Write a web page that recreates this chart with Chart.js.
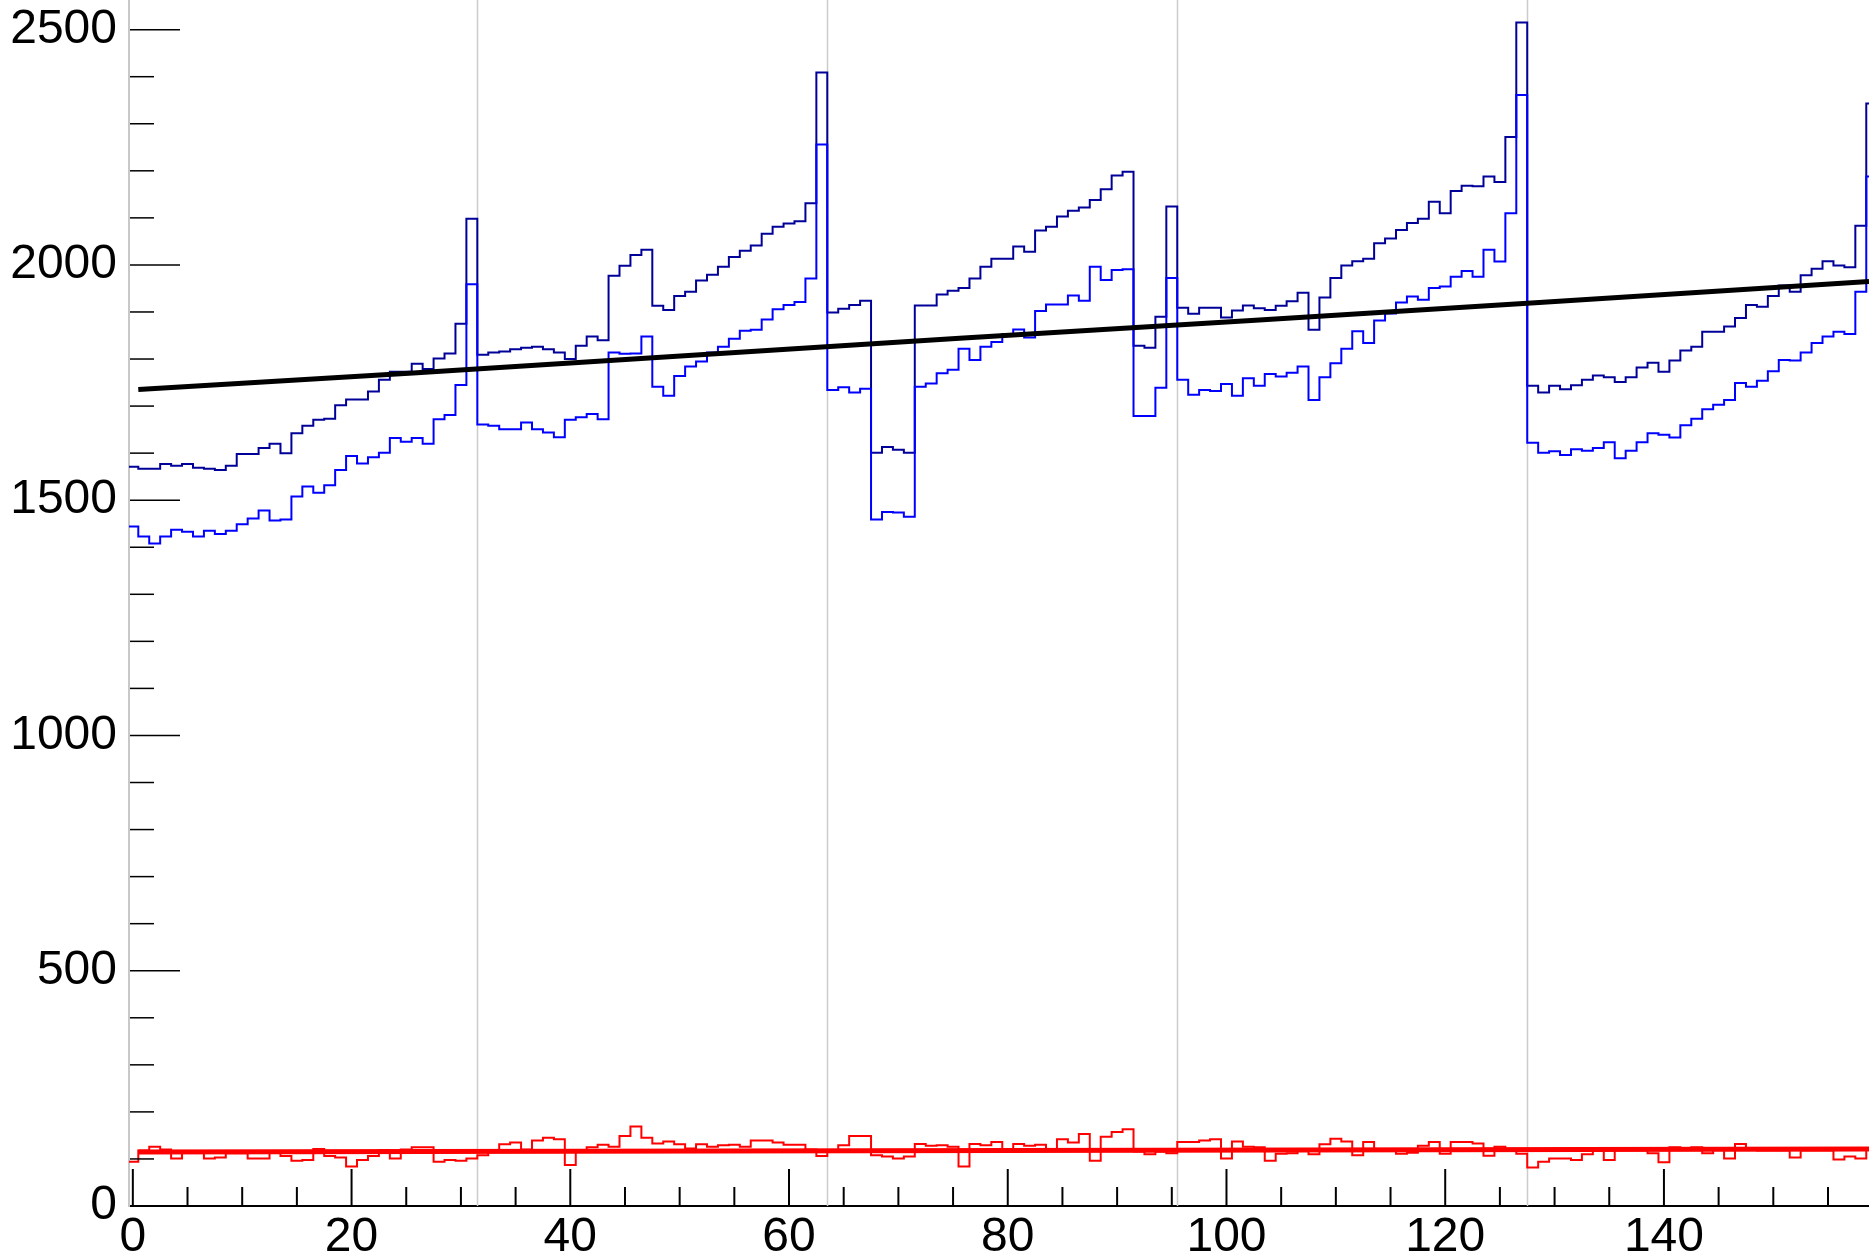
<!DOCTYPE html>
<html lang="en">
<head>
<meta charset="UTF-8">
<title>Histograms</title>
<script src="https://cdn.jsdelivr.net/npm/chart.js"></script>
<style>
  html, body { margin: 0; padding: 0; background: #fff; }
  #wrap { width: 1869px; height: 1257px; position: relative; }
</style>
</head>
<body>
<div id="wrap"><canvas id="histChart"></canvas></div>
<script>
// bin centres (bins are one unit wide, edges at half integers)
const binCenters = Array.from({ length: 160 }, (_, i) => i);

// dark blue histogram
const darkBlueValues = [
  1571, 1567, 1567, 1577, 1573, 1577, 1569, 1567, 1564, 1573,
  1598, 1598, 1611, 1620, 1600, 1642, 1658, 1671, 1673, 1702,
  1714, 1714, 1731, 1756, 1773, 1773, 1790, 1779, 1801, 1812,
  1875, 2098, 1809, 1814, 1816, 1821, 1824, 1826, 1821, 1814,
  1800, 1828, 1848, 1840, 1977, 1998, 2021, 2032, 1913, 1904,
  1934, 1943, 1967, 1979, 1996, 2017, 2030, 2041, 2066, 2081,
  2088, 2093, 2131, 2409, 1899, 1907, 1915, 1924, 1601, 1613,
  1607, 1601, 1914, 1914, 1937, 1945, 1951, 1971, 1996, 2013,
  2013, 2039, 2028, 2073, 2081, 2103, 2115, 2122, 2138, 2161,
  2190, 2198, 1828, 1824, 1890, 2124, 1909, 1896, 1909, 1909,
  1888, 1903, 1914, 1908, 1904, 1913, 1923, 1941, 1862, 1931,
  1972, 1999, 2008, 2013, 2046, 2056, 2074, 2089, 2098, 2134,
  2110, 2157, 2168, 2167, 2188, 2176, 2272, 2515, 1743, 1729,
  1743, 1736, 1744, 1756, 1765, 1761, 1751, 1761, 1782, 1792,
  1773, 1797, 1818, 1826, 1858, 1858, 1869, 1887, 1915, 1911,
  1934, 1956, 1943, 1978, 1992, 2008, 1999, 1995, 2083, 2343
];

// blue histogram
const blueValues = [
  1444, 1423, 1408, 1423, 1437, 1433, 1423, 1435, 1428, 1435,
  1449, 1461, 1478, 1457, 1459, 1508, 1529, 1516, 1532, 1564,
  1594, 1578, 1591, 1601, 1632, 1624, 1632, 1620, 1672, 1681,
  1745, 1959, 1661, 1658, 1651, 1651, 1665, 1651, 1644, 1634,
  1671, 1676, 1683, 1672, 1814, 1811, 1812, 1848, 1741, 1722,
  1764, 1784, 1795, 1814, 1826, 1843, 1860, 1862, 1884, 1906,
  1915, 1921, 1971, 2256, 1734, 1740, 1729, 1737, 1459, 1475,
  1474, 1465, 1741, 1748, 1770, 1777, 1822, 1798, 1826, 1836,
  1853, 1863, 1846, 1902, 1916, 1916, 1935, 1924, 1996, 1968,
  1989, 1991, 1679, 1679, 1739, 1972, 1756, 1724, 1734, 1732,
  1747, 1722, 1759, 1743, 1768, 1763, 1771, 1784, 1713, 1761,
  1791, 1822, 1859, 1834, 1882, 1897, 1920, 1933, 1926, 1951,
  1954, 1975, 1987, 1975, 2032, 2007, 2110, 2361, 1622, 1601,
  1604, 1596, 1608, 1605, 1611, 1623, 1589, 1605, 1623, 1642,
  1639, 1633, 1659, 1673, 1693, 1703, 1713, 1749, 1741, 1754,
  1774, 1798, 1797, 1814, 1834, 1848, 1858, 1853, 1943, 2188
];

// red histogram
const redValues = [
  94, 118, 126, 120, 101, 115, 115, 101, 103, 112,
  112, 101, 101, 113, 106, 96, 98, 121, 106, 103,
  84, 98, 106, 119, 101, 120, 125, 125, 94, 98,
  96, 101, 108, 119, 131, 135, 120, 139, 145, 142,
  87, 119, 125, 130, 126, 149, 169, 145, 133, 137,
  131, 122, 131, 126, 129, 130, 126, 139, 139, 135,
  130, 130, 120, 106, 119, 129, 149, 149, 108, 105,
  101, 105, 132, 128, 129, 126, 84, 132, 129, 136,
  119, 132, 128, 130, 120, 142, 135, 153, 96, 147,
  157, 163, 116, 110, 116, 112, 136, 136, 139, 142,
  101, 137, 126, 125, 96, 111, 112, 120, 110, 131,
  143, 137, 108, 136, 120, 120, 111, 113, 128, 136,
  111, 136, 136, 133, 107, 126, 120, 111, 82, 94,
  101, 101, 98, 110, 120, 98, 120, 120, 120, 112,
  93, 125, 120, 125, 112, 120, 101, 132, 120, 118,
  118, 118, 103, 118, 118, 118, 99, 105, 101, 120
];

const blackFitX = [0.5, 26, 75.6, 103, 128.6, 158.75];
const blackFitY = [1735, 1771, 1844, 1883, 1920, 1965];
const redFitX = [0.5, 80, 158.75];
const redFitY = [115, 118, 121];

// axes
const xTickLabels = [0, 20, 40, 60, 80, 100, 120, 140];
const xMinorTicks = [0, 5, 10, 15, 20, 25, 30, 35, 40, 45, 50, 55, 60, 65, 70, 75,
  80, 85, 90, 95, 100, 105, 110, 115, 120, 125, 130, 135, 140, 145, 150, 155];
const yTickLabels = [0, 500, 1000, 1500, 2000, 2500];
const yMinorTicks = [0, 100, 200, 300, 400, 500, 600, 700, 800, 900, 1000, 1100, 1200,
  1300, 1400, 1500, 1600, 1700, 1800, 1900, 2000, 2100, 2200, 2300, 2400, 2500];
const sectorLines = [31.5, 63.5, 95.5, 127.5];

function histPoints(values) {
  const pts = values.map((v, i) => ({ x: binCenters[i] - 0.5, y: v }));
  const last = values.length - 1;
  pts.push({ x: binCenters[last] + 0.5, y: values[last] });
  return pts;
}

function linePoints(xs, ys) {
  return xs.map((x, i) => ({ x: x, y: ys[i] }));
}

// ROOT style: grey sector lines behind, tick marks drawn inside the frame
const rootAxes = {
  id: 'rootAxes',
  beforeDatasetsDraw(chart) {
    const { ctx, chartArea, scales } = chart;
    ctx.save();
    ctx.strokeStyle = '#cccccc';
    ctx.lineWidth = 1.5;
    sectorLines.forEach(v => {
      const px = Math.round(scales.x.getPixelForValue(v)) + 0.5;
      ctx.beginPath();
      ctx.moveTo(px, chartArea.top);
      ctx.lineTo(px, chartArea.bottom);
      ctx.stroke();
    });
    ctx.restore();
  },
  afterDatasetsDraw(chart) {
    const { ctx, chartArea, scales } = chart;
    ctx.save();
    ctx.strokeStyle = '#000000';
    ctx.lineWidth = 1.5;
    yMinorTicks.forEach(v => {
      const py = scales.y.getPixelForValue(v);
      const len = yTickLabels.includes(v) ? 50 : 24;
      ctx.beginPath();
      ctx.moveTo(chartArea.left + 1, py);
      ctx.lineTo(chartArea.left + 1 + len, py);
      ctx.stroke();
    });
    ctx.lineWidth = 2;
    xMinorTicks.forEach(v => {
      const px = scales.x.getPixelForValue(v);
      const len = xTickLabels.includes(v) ? 37 : 19;
      ctx.beginPath();
      ctx.moveTo(px, chartArea.bottom);
      ctx.lineTo(px, chartArea.bottom - len);
      ctx.stroke();
    });
    ctx.restore();
  }
};

const labelFont = { family: '"Liberation Sans", Arial, sans-serif', size: 48 };

new Chart(document.getElementById('histChart'), {
  type: 'line',
  data: {
    datasets: [
      {
        label: 'fit',
        data: linePoints(blackFitX, blackFitY),
        borderColor: '#000000',
        borderWidth: 5,
        pointRadius: 0
      },
      {
        label: 'red fit',
        data: linePoints(redFitX, redFitY),
        borderColor: '#ff0000',
        borderWidth: 5,
        pointRadius: 0
      },
      {
        label: 'blue',
        data: histPoints(blueValues),
        borderColor: '#0000ff',
        borderWidth: 2,
        pointRadius: 0,
        stepped: 'before'
      },
      {
        label: 'dark blue',
        data: histPoints(darkBlueValues),
        borderColor: '#000099',
        borderWidth: 2,
        pointRadius: 0,
        stepped: 'before'
      },
      {
        label: 'red',
        data: histPoints(redValues),
        borderColor: '#ff0000',
        borderWidth: 2,
        pointRadius: 0,
        stepped: 'before'
      }
    ]
  },
  options: {
    responsive: true,
    maintainAspectRatio: false,
    animation: false,
    devicePixelRatio: 1,
    clip: 0,
    layout: { padding: 0, autoPadding: false },
    plugins: {
      legend: { display: false },
      tooltip: { enabled: false }
    },
    scales: {
      x: {
        type: 'linear',
        min: -0.35,
        max: 158.75,
        grid: { display: false, drawTicks: false },
        border: { display: true, color: '#000000', width: 2 },
        ticks: {
          font: labelFont,
          color: '#000000',
          padding: 3,
          autoSkip: false,
          maxRotation: 0,
          includeBounds: false,
          callback: v => String(v)
        },
        afterBuildTicks: axis => { axis.ticks = xTickLabels.map(v => ({ value: v })); },
        afterFit: axis => {
          axis.height = 51;
          axis.paddingLeft = 0; axis.paddingRight = 0;
        }
      },
      y: {
        type: 'linear',
        min: 0,
        max: 2563,
        grid: { display: false, drawTicks: false },
        border: { display: true, color: '#c8c8c8', width: 2 },
        ticks: {
          font: labelFont,
          color: '#000000',
          padding: 12,
          autoSkip: false,
          includeBounds: false,
          callback: v => String(v)
        },
        afterBuildTicks: axis => { axis.ticks = yTickLabels.map(v => ({ value: v })); },
        afterFit: axis => {
          axis.width = 129;
          axis.paddingTop = 0; axis.paddingBottom = 0;
        }
      }
    }
  },
  plugins: [rootAxes]
});
</script>
</body>
</html>
